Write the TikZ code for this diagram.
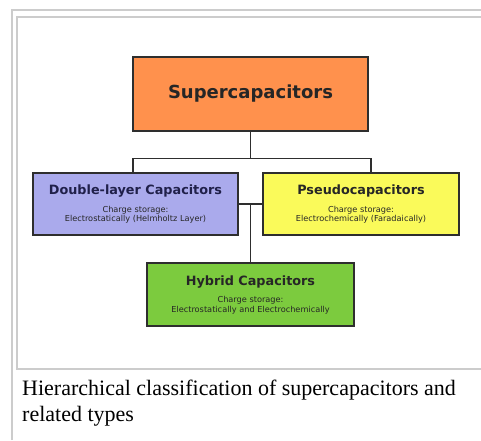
\documentclass[tikz,border=0pt]{standalone}
\usepackage{fontspec}
\newfontfamily\boxfont{DejaVu Sans}
\newfontfamily\capfont{Liberation Serif}
\definecolor{framegray}{HTML}{CCCCCC}
\definecolor{boxline}{HTML}{2E2E2E}
\definecolor{rootorange}{HTML}{FF914D}
\definecolor{dlblue}{HTML}{AAAAEC}
\definecolor{pseudoyellow}{HTML}{FAFA5A}
\definecolor{hybridgreen}{HTML}{7CCB3E}
\newcommand{\kind}[3]{{\bfseries\fontsize{12.8}{14}\selectfont #1}\\[8pt]#2\\#3}
\tikzset{x=1pt,y=-1pt,
    every box/.style={draw=boxline,line width=1.4pt,align=center,inner sep=0pt,
        text=black!85,font=\boxfont\fontsize{8.2}{9.5}\selectfont},
    rootbox/.style={every box,fill=rootorange,minimum width=235pt,minimum height=74pt,
        font=\boxfont\bfseries\fontsize{18}{20}\selectfont},
    typebox/.style={every box,minimum height=62pt},
    link/.style={draw=boxline,line width=1.1pt},
    framing/.style={draw=framegray,line width=2pt},
    }

\begin{document}
\begin{tikzpicture}
	\useasboundingbox (0,0) rectangle (481,440);
	% frame
	\draw[framing] (12,440) -- (12,10) -- (481,10);
	\draw[framing] (481,17) -- (17,17) -- (17,369) -- (481,369);
	% boxes
	\node[rootbox] (super) at (250.5,94) {Supercapacitors};
	\node[typebox,fill=dlblue,minimum width=205pt] (dl) at (135.5,204)
		{\kind{\color[HTML]{20204A}Double-layer Capacitors}{Charge storage:}{Electrostatically (Helmholtz Layer)}};
	\node[typebox,fill=pseudoyellow,minimum width=196pt] (pseudo) at (361,204)
		{\kind{Pseudocapacitors}{Charge storage:}{Electrochemically (Faradaically)}};
	\node[typebox,fill=hybridgreen,minimum width=207pt,minimum height=63pt] (hybrid) at (250.5,294.5)
		{\kind{Hybrid Capacitors}{Charge storage:}{Electrostatically and Electrochemically}};
	% connectors
	\draw[link] (super.south) -- ++(0,27) coordinate (bus);
	\draw[link] ([xshift=-2.5pt]dl.north) |- (bus) -| ([xshift=10pt]pseudo.north);
	\draw[link] (dl) -- (pseudo);
	\draw[link] (hybrid.north) -- (hybrid.north |- dl.east);
	% caption
	\node[anchor=north west,align=left,inner sep=0pt,font=\capfont\fontsize{22}{26}\selectfont] (caption)
		at (22,380) {Hierarchical classification of supercapacitors and\\related types};
\end{tikzpicture}
\end{document}
